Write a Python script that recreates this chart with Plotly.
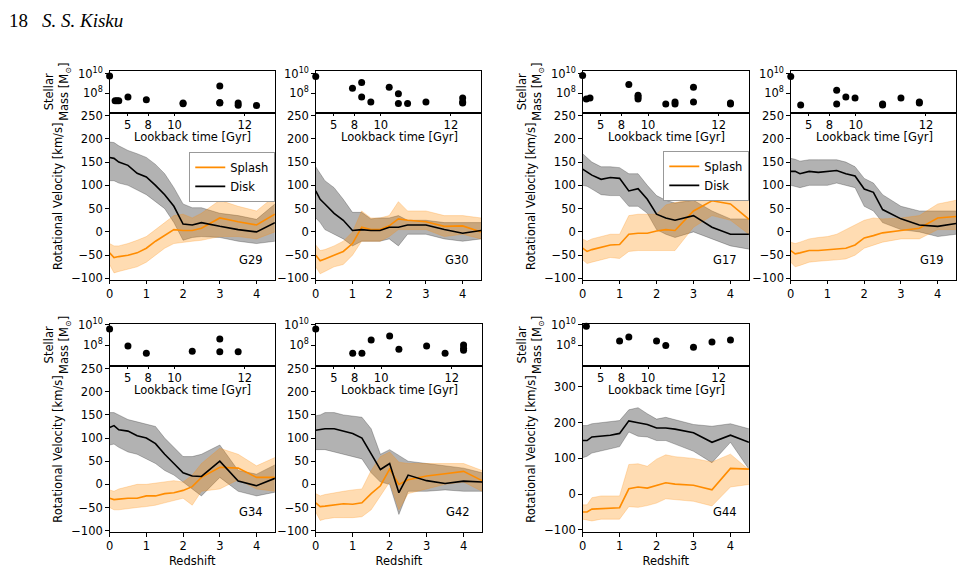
import plotly.graph_objects as go

W, H = 965, 574

z = [0, 0.12, 0.25, 0.5, 0.75, 1.0, 1.25, 1.5, 1.75, 2.0, 2.25, 2.5, 3.0, 3.5, 4.0, 4.5]

# rotational velocity per galaxy: disk / splash mean, upper, lower
g29_disk = [160, 158, 150, 143, 126, 118, 100, 80, 55, 17, 15, 20, 12, 5, 0, 20]
g29_disk_hi = [193, 192, 185, 175, 168, 160, 145, 125, 95, 60, 52, 52, 40, 35, 27, 60]
g29_disk_lo = [110, 110, 105, 100, 90, 80, 65, 50, 20, -18, -12, -10, -12, -20, -25, -20]
g29_spl = [-45, -55, -53, -50, -45, -35, -20, -7, 5, 3, 3, 8, 30, 22, 15, 38]
g29_spl_hi = [-25, -30, -30, -25, -18, -10, 5, 20, 35, 38, 30, 40, 68, 55, 45, 77]
g29_spl_lo = [-70, -88, -85, -80, -75, -65, -50, -35, -25, -22, -20, -18, -10, -10, -15, 0]

g30_disk = [88, 70, 60, 40, 25, 3, 5, 3, 3, 10, 10, 15, 15, 5, -3, 3]
g30_disk_hi = [140, 125, 110, 95, 70, 42, 42, 28, 30, 30, 35, 25, 25, 20, 20, 20]
g30_disk_lo = [30, 20, 5, -5, -15, -30, -20, -20, -20, -15, -30, -5, -5, -15, -20, -15]
g30_spl = [-50, -62, -58, -50, -42, -25, 10, 5, 5, 13, 28, 25, 22, 12, 13, 0]
g30_spl_hi = [-28, -40, -38, -30, -20, 0, 45, 30, 30, 35, 65, 45, 45, 35, 35, 30]
g30_spl_lo = [-75, -90, -85, -75, -70, -50, -20, -20, -20, -10, 5, 5, 5, -10, -5, -15]

g17_disk = [135, 128, 122, 113, 117, 115, 88, 93, 70, 38, 30, 25, 35, 10, -5, -5]
g17_disk_hi = [168, 160, 150, 140, 140, 138, 125, 125, 100, 78, 68, 62, 68, 45, 28, 28]
g17_disk_lo = [100, 98, 92, 80, 78, 78, 55, 55, 40, 5, -5, -12, 0, -15, -30, -37]
g17_spl = [-35, -42, -38, -33, -28, -27, -5, -3, -3, 2, 5, 3, 45, 67, 60, 27]
g17_spl_hi = [-15, -20, -15, -10, -5, -5, 35, 38, 38, 38, 58, 63, 70, 105, 95, 65]
g17_spl_lo = [-60, -68, -65, -60, -55, -57, -42, -40, -40, -40, -40, -40, 10, 35, 25, -5]

g19_disk = [130, 130, 125, 130, 128, 130, 132, 125, 120, 92, 85, 48, 28, 15, 12, 18]
g19_disk_hi = [158, 156, 152, 155, 155, 155, 155, 150, 140, 115, 105, 80, 55, 45, 45, 45]
g19_disk_lo = [100, 98, 95, 100, 100, 100, 105, 100, 95, 55, 45, 20, 5, 0, -10, -5]
g19_spl = [-40, -47, -45, -40, -40, -38, -37, -35, -28, -13, -8, -2, 3, 8, 30, 33]
g19_spl_hi = [-22, -25, -22, -15, -12, -10, -5, 5, 15, 25, 30, 28, 30, 35, 60, 68]
g19_spl_lo = [-65, -75, -72, -65, -63, -62, -60, -58, -50, -35, -28, -22, -15, -15, 5, 5]

g34_disk = [123, 127, 118, 115, 105, 100, 88, 65, 45, 25, 18, 17, 50, 7, -3, 13]
g34_disk_hi = [155, 155, 150, 140, 135, 130, 125, 100, 80, 60, 60, 65, 85, 30, 22, 42]
g34_disk_lo = [85, 87, 80, 70, 65, 55, 45, 30, 20, 5, -10, -25, 15, -15, -25, -17]
g34_spl = [-30, -33, -32, -30, -30, -25, -25, -20, -18, -13, -5, 15, 37, 35, 15, 15]
g34_spl_hi = [-12, -15, -10, -5, 0, 0, 3, 5, 8, 5, 20, 45, 78, 65, 40, 58]
g34_spl_lo = [-50, -55, -55, -52, -50, -48, -45, -40, -35, -30, -45, -15, -10, 10, -10, -15]

g42_disk = [117, 118, 120, 120, 115, 110, 100, 65, 32, 45, -18, 20, 8, 2, 7, 5]
g42_disk_hi = [148, 150, 155, 155, 150, 148, 145, 120, 65, 75, 62, 50, 45, 40, 35, 25]
g42_disk_lo = [75, 75, 75, 70, 65, 60, 55, 25, 5, 0, -65, -15, -15, -12, -15, -15]
g42_spl = [-40, -48, -47, -45, -42, -43, -40, -20, -3, 33, 0, 10, 18, 23, 28, 8]
g42_spl_hi = [-20, -25, -22, -18, -15, -12, -10, 30, 60, 70, 48, 45, 45, 45, 45, 30]
g42_spl_lo = [-60, -78, -75, -72, -72, -72, -70, -55, -25, 5, -55, -20, -10, 0, 5, -15]

g44_disk = [150, 150, 160, 162, 165, 170, 205, 200, 195, 185, 185, 182, 172, 145, 165, 145]
g44_disk_hi = [192, 192, 197, 200, 205, 206, 236, 242, 225, 210, 215, 208, 195, 190, 197, 183]
g44_disk_lo = [102, 106, 115, 120, 127, 133, 174, 162, 160, 150, 150, 140, 120, 88, 145, 70]
g44_spl = [-50, -50, -42, -40, -40, -38, 15, 20, 17, 25, 32, 28, 25, 12, 72, 70]
g44_spl_hi = [-30, -30, -10, -5, -5, -5, 83, 85, 78, 98, 110, 105, 100, 90, 112, 68]
g44_spl_lo = [-70, -72, -75, -70, -70, -70, -35, -37, -32, -25, -13, -15, -20, -33, 20, 27]

# stellar mass points (redshift, log10 M)
g29_mz = [0, 0.15, 0.2, 0.25, 0.5, 1.0, 2.0, 2.0, 3.0, 3.0, 3.0, 3.5, 3.5, 4.0]
g29_mm = [9.77, 7.23, 7.23, 7.23, 7.6, 7.33, 6.93, 7.0, 8.73, 7.0, 7.05, 7.0, 6.77, 6.73]
g30_mz = [0, 1.0, 1.25, 1.25, 1.5, 2.0, 2.25, 2.25, 2.5, 3.0, 4.0, 4.0, 4.0]
g30_mm = [9.7, 8.5, 9.1, 7.6, 7.1, 8.6, 7.95, 6.95, 6.95, 7.1, 7.5, 7.1, 7.0]
g17_mz = [0, 0.1, 0.2, 1.25, 1.5, 1.5, 1.5, 2.25, 2.5, 2.5, 3.0, 3.0, 4.0, 4.0]
g17_mm = [9.8, 7.4, 7.5, 8.9, 7.8, 7.6, 7.4, 6.9, 7.1, 6.9, 8.6, 7.1, 7.0, 6.9]
g19_mz = [0, 0.27, 1.25, 1.25, 1.5, 1.75, 2.5, 2.5, 3.0, 3.5, 3.5]
g19_mm = [9.7, 6.8, 8.3, 6.9, 7.6, 7.5, 6.9, 6.8, 7.5, 7.1, 7.0]
g34_mz = [0, 0.5, 1.0, 2.25, 3.0, 3.0, 3.5]
g34_mm = [9.6, 7.9, 7.2, 7.4, 8.6, 7.35, 7.35]
g42_mz = [0, 1.0, 1.25, 1.5, 2.0, 2.25, 3.0, 3.5, 4.0, 4.0, 4.0]
g42_mm = [9.6, 7.2, 7.2, 8.5, 8.9, 7.6, 7.9, 7.2, 8.0, 7.7, 7.5]
g44_mz = [0.1, 1.0, 1.25, 2.0, 2.25, 3.0, 3.5, 4.0]
g44_mm = [9.85, 8.4, 8.8, 8.4, 7.95, 7.8, 8.3, 8.5]

lookback_z = [0.49, 1.05, 1.77, 3.68]
lookback_labels = ["5", "8", "10", "12"]

panels = [
    ("G29", (108, 274), (65, 108, 279), g29_disk, g29_disk_hi, g29_disk_lo, g29_spl, g29_spl_hi, g29_spl_lo, g29_mz, g29_mm),
    ("G30", (315, 481), (65, 108, 279), g30_disk, g30_disk_hi, g30_disk_lo, g30_spl, g30_spl_hi, g30_spl_lo, g30_mz, g30_mm),
    ("G17", (583, 750), (65, 108, 279), g17_disk, g17_disk_hi, g17_disk_lo, g17_spl, g17_spl_hi, g17_spl_lo, g17_mz, g17_mm),
    ("G19", (792, 958), (65, 108, 279), g19_disk, g19_disk_hi, g19_disk_lo, g19_spl, g19_spl_hi, g19_spl_lo, g19_mz, g19_mm),
    ("G34", (108, 274), (324, 367, 537), g34_disk, g34_disk_hi, g34_disk_lo, g34_spl, g34_spl_hi, g34_spl_lo, g34_mz, g34_mm),
    ("G42", (315, 482), (324, 367, 537), g42_disk, g42_disk_hi, g42_disk_lo, g42_spl, g42_spl_hi, g42_spl_lo, g42_mz, g42_mm),
    ("G44", (583, 750), (324, 367, 537), g44_disk, g44_disk_hi, g44_disk_lo, g44_spl, g44_spl_hi, g44_spl_lo, g44_mz, g44_mm),
]
left_panels = {"G29", "G17", "G34", "G44"}
bottom_panels = {"G34", "G42", "G44"}
legend_for = {"G29": ("legend", 188, 148), "G17": ("legend2", 664, 147)}

ORANGE = "#ff8c00"
FONT = "DejaVu Sans"
fs = 11.5
DX, DY = 10, 8  # page offset of the rendered figure


def px(x):
    return (x - DX) / W


def py(y):
    return 1 - (y - DY) / H


tfont = dict(family=FONT, size=fs, color="black")
fig = go.Figure()
layout = {}
annotations = []
a = 1
for name, (x0, x1), (ym, y0, y1), disk, dhi, dlo, spl, shi, slo, mz, mm in panels:
    xm, ym_ax, xs, ys, xl, xt = f"x{a}", f"y{a}", f"x{a+1}", f"y{a+1}", f"x{a+2}", f"x{a+3}"
    sfx = lambda n: "" if n == 1 else str(n)
    yr = [-106, 359] if name == "G44" else [-103, 256]
    ytv = [-100, 0, 100, 200, 300] if name == "G44" else list(range(-100, 251, 50))
    axcommon = dict(showline=True, linecolor="black", linewidth=1, mirror=True,
                    showgrid=False, zeroline=False, tickfont=tfont,
                    ticks="outside", ticklen=3.5, tickcolor="black")

    # bands
    for lo, hi, fc in [(dlo, dhi, "rgba(0,0,0,0.3)"), (slo, shi, "rgba(255,140,0,0.3)")]:
        fig.add_trace(go.Scatter(x=z, y=lo, xaxis=xm, yaxis=ym_ax, mode="lines",
                                 line=dict(width=0.8, color=fc), showlegend=False, hoverinfo="skip"))
        fig.add_trace(go.Scatter(x=z, y=hi, xaxis=xm, yaxis=ym_ax, mode="lines", fill="tonexty",
                                 fillcolor=fc, line=dict(width=0.8, color=fc), showlegend=False, hoverinfo="skip"))
    leg = legend_for.get(name)
    fig.add_trace(go.Scatter(x=z, y=spl, xaxis=xm, yaxis=ym_ax, mode="lines", name="Splash",
                             line=dict(color=ORANGE, width=1.6), showlegend=bool(leg),
                             legend=leg[0] if leg else "legend"))
    fig.add_trace(go.Scatter(x=z, y=disk, xaxis=xm, yaxis=ym_ax, mode="lines", name="Disk",
                             line=dict(color="black", width=1.6), showlegend=bool(leg),
                             legend=leg[0] if leg else "legend"))
    # invisible traces for the lookback axes
    for ax in (xl, xt):
        fig.add_trace(go.Scatter(x=[0], y=[0], xaxis=ax, yaxis=ym_ax, mode="markers",
                                 marker=dict(opacity=0), showlegend=False, hoverinfo="skip"))
    # mass
    fig.add_trace(go.Scatter(x=mz, y=[10 ** v for v in mm], xaxis=xs, yaxis=ys, mode="markers",
                             marker=dict(color="black", size=7), showlegend=False, cliponaxis=False))

    layout[f"xaxis{sfx(a)}"] = dict(axcommon, domain=[px(x0), px(x1)], anchor=ym_ax, range=[0, 4.5],
                                   tickvals=[0, 1, 2, 3, 4],
                                   title=dict(text="Redshift" if name in bottom_panels else "",
                                              font=tfont, standoff=4))
    layout[f"yaxis{sfx(a)}"] = dict(axcommon, domain=[py(y1), py(y0)], anchor=xm, range=yr, tickvals=ytv,
                                   title=dict(text="Rotational Velocity [km/s]" if name in left_panels else "",
                                              font=tfont, standoff=6))
    layout[f"xaxis{a+1}"] = dict(axcommon, domain=[px(x0), px(x1)], anchor=ys, range=[0, 4.5],
                                 matches=xm, showticklabels=False, ticks="")
    mr = [5.95, 10.1] if name in bottom_panels else [6.0, 10.3]
    layout[f"yaxis{a+1}"] = dict(axcommon, domain=[py(y0), py(ym)], anchor=xs, type="log", range=mr,
                                 tickvals=[1e8, 1e10], ticktext=["10<sup>8</sup>", "10<sup>10</sup>"],
                                 title=dict(text="Stellar<br>Mass [M<sub>⊙</sub>]" if name in left_panels else "",
                                            font=tfont, standoff=6))
    # lookback tick marks at the top edge
    layout[f"xaxis{a+2}"] = dict(showgrid=False, zeroline=False, overlaying=xm, anchor=ym_ax, side="top",
                                 range=[0, 4.5], tickvals=lookback_z, showticklabels=False,
                                 ticks="inside", ticklen=3, tickcolor="black")
    # lookback tick labels just below the top edge
    layout[f"xaxis{a+3}"] = dict(showgrid=False, zeroline=False, overlaying=xm, anchor="free",
                                 position=py(y0 + 19), side="top", showline=False,
                                 range=[0, 4.5], tickvals=lookback_z, ticktext=lookback_labels,
                                 ticks="", tickfont=tfont)
    annotations.append(dict(x=px(x0 + (x1 - x0) * 2.27 / 4.5), y=py(y0 + 25), xref="paper", yref="paper",
                            text="Lookback time [Gyr]", showarrow=False, xanchor="center", yanchor="middle",
                            font=tfont))
    annotations.append(dict(x=px(x1 - 10), y=py(y1 - 11), xref="paper", yref="paper", text=name,
                            showarrow=False, xanchor="right", yanchor="bottom", font=tfont))
    if leg:
        layout[leg[0]] = dict(x=px(leg[1]), y=py(leg[2]), xanchor="left", yanchor="top",
                              bgcolor="white", bordercolor="#999", borderwidth=1, traceorder="normal",
                              font=tfont, tracegroupgap=0, itemwidth=30)
    a += 4

annotations.append(dict(x=px(5), y=py(14), xref="paper", yref="paper", showarrow=False,
                        xanchor="left", yanchor="middle", text="18",
                        font=dict(family="Liberation Serif", size=19, color="black")))
annotations.append(dict(x=px(38), y=py(14), xref="paper", yref="paper", showarrow=False,
                        xanchor="left", yanchor="middle", text="<i>S. S. Kisku</i>",
                        font=dict(family="Liberation Serif", size=19, color="black")))

fig.update_layout(width=W, height=H, margin=dict(l=0, r=0, t=0, b=0),
                  plot_bgcolor="white", paper_bgcolor="white",
                  annotations=annotations, **layout)
fig.write_html("out.html")
